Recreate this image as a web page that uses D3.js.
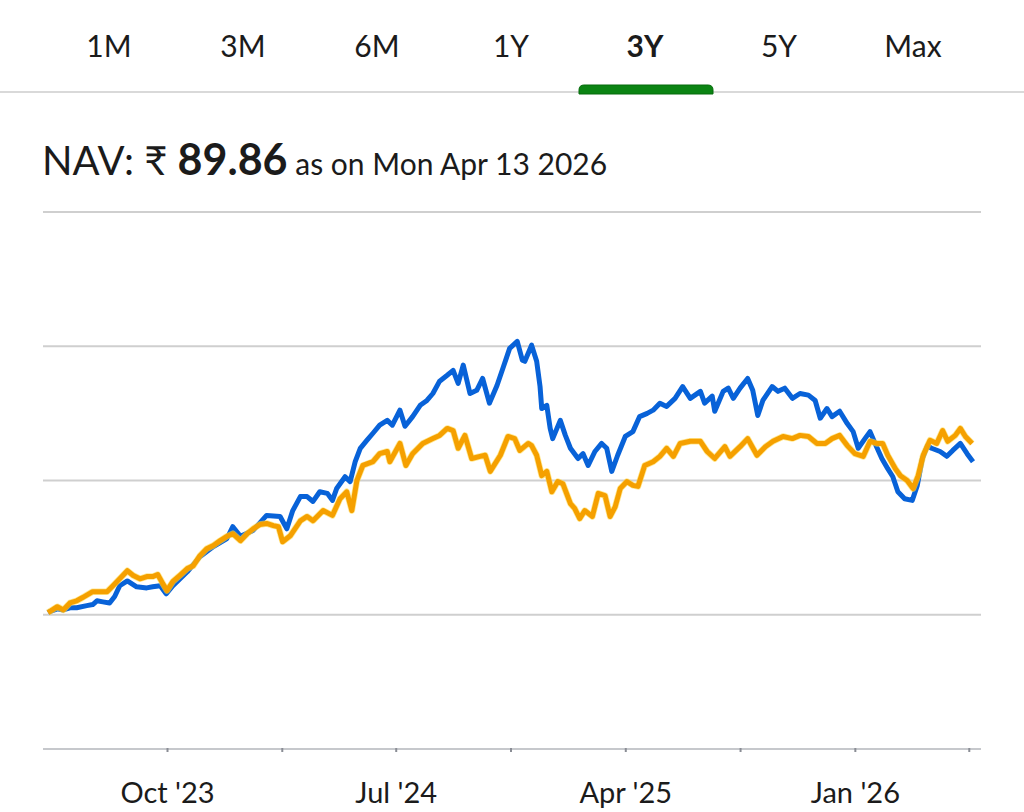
<!DOCTYPE html>
<html>
<head>
<meta charset="utf-8">
<script src="https://cdn.jsdelivr.net/npm/d3@7"></script>
<style>
  body { margin: 0; background: #fff; }
  svg { font-family: Lato, "Open Sans", sans-serif; }
</style>
</head>
<body>
<svg id="chart" width="1024" height="812"></svg>
<script>
// period tabs
var tabs = ['1M', '3M', '6M', '1Y', '3Y', '5Y', 'Max'];
var activeTab = '3Y';

// header
var navValue = '89.86';
var navDate = 'Mon Apr 13 2026';

// x axis: days counted from the window start
var startDate = '2023-04-13';
var endDay = 1096;
var tickDays = [141, 277, 412, 548, 684, 820, 956, 1091];
var tickLabels = ["Oct '23", '', "Jul '24", '', "Apr '25", '', "Jan '26", ''];

// y gridlines, % return since start
var gridValues = [-25, 0, 25, 50, 75];

// fund (blue), [day, % return]
var fundReturns = [
  [0, 0.4], [2, 0.6], [11, 1.1], [18, 0.9], [26, 1.3], [34, 1.3], [46, 1.7], [53, 1.9],
  [58, 2.6], [65, 2.4], [73, 2.2], [79, 3.4], [85, 5.4], [94, 6.3], [105, 5.2], [117, 5.0],
  [124, 5.2], [133, 5.4], [140, 3.9], [148, 5.4], [165, 8.0], [180, 10.8], [196, 12.7],
  [212, 14.2], [219, 16.4], [228, 14.6], [243, 15.7], [259, 18.5], [275, 18.3], [283, 16.0],
  [290, 19.4], [299, 22.0], [307, 22.0], [314, 21.1], [322, 22.9], [331, 22.6], [337, 21.3],
  [342, 23.5], [352, 25.7], [358, 24.8], [364, 28.5], [370, 31.0], [378, 32.5], [385, 33.8],
  [393, 35.3], [402, 36.2], [408, 35.3], [417, 38.1], [423, 35.1], [432, 36.9], [441, 39.0],
  [449, 39.9], [456, 41.2], [464, 43.5], [473, 44.6], [480, 45.5], [486, 43.1], [492, 46.5],
  [500, 41.2], [508, 41.8], [515, 44.0], [523, 39.4], [532, 42.7], [539, 45.9], [547, 49.6],
  [556, 50.9], [562, 47.4], [565, 47.2], [573, 50.2], [579, 47.2], [583, 42.5], [585, 38.4],
  [591, 39.0], [595, 34.7], [598, 32.8], [607, 36.2], [613, 33.4], [619, 31.0], [628, 29.1],
  [634, 30.0], [640, 27.8], [648, 30.4], [656, 31.9], [662, 31.0], [668, 26.7], [675, 29.7],
  [684, 33.2], [693, 34.1], [701, 36.9], [710, 37.5], [717, 38.1], [725, 39.4], [733, 38.8],
  [743, 40.3], [752, 42.5], [761, 40.3], [773, 41.6], [778, 39.4], [787, 40.7], [790, 37.9],
  [800, 41.6], [806, 42.2], [812, 40.3], [820, 42.2], [829, 44.0], [835, 41.8], [841, 37.1],
  [847, 39.9], [858, 42.5], [865, 41.6], [873, 42.2], [882, 40.3], [891, 41.2], [901, 40.9],
  [909, 39.9], [915, 36.6], [923, 38.4], [929, 36.9], [938, 37.9], [947, 35.6], [954, 34.1],
  [960, 31.0], [968, 32.8], [974, 34.1], [980, 31.9], [988, 29.1], [995, 27.2], [1001, 25.7],
  [1007, 22.9], [1015, 21.6], [1024, 21.3], [1030, 24.1], [1036, 29.1], [1042, 31.5],
  [1047, 31.0], [1057, 30.4], [1065, 29.5], [1072, 30.6], [1081, 31.9], [1089, 30.0], [1096, 28.5]
];

// benchmark (orange), [day, % return]
var benchReturns = [
  [0, 0.4], [2, 0.6], [11, 1.5], [18, 0.9], [26, 2.2], [34, 2.6], [41, 3.2], [53, 4.3],
  [62, 4.3], [70, 4.3], [77, 5.4], [85, 6.7], [94, 8.2], [101, 7.3], [109, 6.7], [117, 7.1],
  [124, 7.1], [130, 7.5], [136, 5.8], [141, 4.5], [148, 6.2], [156, 7.3], [165, 8.6], [172, 9.1],
  [180, 11.0], [188, 12.3], [196, 12.9], [204, 13.8], [212, 14.6], [219, 15.1], [228, 13.8],
  [236, 15.1], [243, 16.0], [251, 16.8], [259, 17.0], [267, 16.6], [273, 16.4], [278, 13.6],
  [287, 14.7], [299, 17.5], [307, 18.3], [314, 17.5], [326, 19.4], [337, 18.5], [346, 21.6],
  [354, 22.9], [360, 19.4], [366, 25.0], [373, 27.8], [385, 28.5], [393, 30.0], [402, 30.4],
  [405, 28.5], [417, 31.9], [424, 27.8], [432, 30.0], [444, 31.9], [456, 32.8], [464, 33.4],
  [473, 34.7], [480, 34.3], [486, 31.0], [494, 33.4], [502, 29.1], [512, 29.5], [518, 29.7],
  [524, 26.7], [536, 29.7], [545, 33.2], [553, 32.8], [559, 30.6], [569, 31.9], [573, 31.5],
  [579, 29.7], [585, 25.9], [591, 26.7], [597, 22.9], [604, 24.8], [610, 24.4], [619, 20.7],
  [624, 19.8], [630, 17.9], [636, 19.4], [645, 18.3], [652, 22.6], [660, 22.2], [666, 18.3],
  [672, 20.1], [678, 23.5], [686, 24.8], [693, 24.1], [699, 23.9], [707, 27.8], [717, 28.5],
  [725, 29.5], [733, 31.0], [741, 29.5], [749, 31.9], [761, 32.3], [773, 32.3], [781, 30.4],
  [790, 29.1], [802, 31.3], [808, 29.5], [820, 31.3], [829, 32.8], [840, 29.7], [850, 31.3],
  [859, 32.3], [871, 33.2], [882, 32.8], [891, 33.4], [901, 33.2], [911, 31.9], [921, 31.9],
  [929, 32.8], [938, 33.4], [947, 31.5], [956, 30.0], [966, 29.5], [974, 32.3], [982, 31.9],
  [989, 31.9], [995, 29.7], [1004, 27.2], [1010, 25.9], [1018, 25.0], [1025, 23.5], [1031, 25.9],
  [1037, 29.7], [1045, 32.5], [1053, 31.9], [1060, 34.3], [1066, 32.3], [1075, 33.4],
  [1081, 34.7], [1087, 33.2], [1095, 31.9]
];

var svg = d3.select('#chart');
var width = 1024;
var plot = {left: 43, right: 981, top: 212, bottom: 749};

var start = d3.timeParse('%Y-%m-%d')(startDate);
function dayToDate(d) { return d3.timeDay.offset(start, d); }

// ---- tabs ----
var tabScale = d3.scaleBand().domain(tabs).range([42, 980]);

svg.append('line')
    .attr('x1', 0).attr('x2', width)
    .attr('y1', 92).attr('y2', 92)
    .attr('stroke', '#d9d9d9')
    .attr('stroke-width', 2);

svg.selectAll('.tab')
    .data(tabs)
  .enter().append('text')
    .attr('class', 'tab')
    .attr('x', function(d) { return tabScale(d) + tabScale.bandwidth() / 2; })
    .attr('y', 57)
    .attr('text-anchor', 'middle')
    .attr('font-size', 30)
    .attr('font-weight', function(d) { return d == activeTab ? 700 : 400; })
    .attr('fill', '#1b1b1b')
    .text(function(d) { return d; });

var bw = tabScale.bandwidth(), r = 5;
var bx = tabScale(activeTab) + 1;
svg.append('path')
    .attr('d', 'M' + bx + ',94 V' + (85 + r) + ' Q' + bx + ',85 ' + (bx + r) + ',85' +
               ' H' + (bx + bw - r) + ' Q' + (bx + bw) + ',85 ' + (bx + bw) + ',' + (85 + r) + ' V94 Z')
    .attr('fill', '#0b8413')
    .attr('stroke', '#076b0d')
    .attr('stroke-width', 1);

// ---- header ----
var title = svg.append('text')
    .attr('x', 42)
    .attr('y', 175)
    .attr('fill', '#1b1b1b');
title.append('tspan').attr('font-size', 40).text('NAV: ₹ ');
title.append('tspan').attr('font-size', 43).attr('font-weight', 700).text(navValue);
title.append('tspan').attr('font-size', 30).text(' as on ' + navDate);

// ---- scales ----
var x = d3.scaleTime()
    .domain([start, dayToDate(endDay)])
    .range([48, 973]);

var y = d3.scaleLinear()
    .domain([-25, 75])
    .range([plot.bottom, plot.top]);

// gridlines
svg.append('g')
    .selectAll('line')
    .data(gridValues.slice(1))
  .enter().append('line')
    .attr('x1', plot.left).attr('x2', plot.right)
    .attr('y1', function(d) { return y(d); })
    .attr('y2', function(d) { return y(d); })
    .attr('stroke', '#cfcfcf')
    .attr('stroke-width', 2);

// bottom axis
var xAxis = d3.axisBottom(x)
    .tickValues(tickDays.map(dayToDate))
    .tickSize(3)
    .tickPadding(30)
    .tickFormat(function(d, i) { return tickLabels[i]; });

var ax = svg.append('g')
    .attr('transform', 'translate(0,' + y(-25) + ')')
    .call(xAxis);
ax.select('.domain').remove();
ax.insert('line', ':first-child')
    .attr('x1', plot.left).attr('x2', plot.right)
    .attr('stroke', '#c6c8cc')
    .attr('stroke-width', 2);
ax.selectAll('.tick line').attr('stroke', '#8a8d95').attr('stroke-width', 2).attr('y1', -1);
ax.selectAll('.tick text')
    .attr('font-size', 29)
    .attr('font-family', 'Lato, "Open Sans", sans-serif')
    .attr('fill', '#1b1b1b');

// ---- lines ----
var line = d3.line()
    .x(function(d) { return x(dayToDate(d[0])); })
    .y(function(d) { return y(d[1]); });

svg.append('path')
    .datum(fundReturns)
    .attr('d', line)
    .attr('fill', 'none')
    .attr('stroke', '#0862d8')
    .attr('stroke-width', 5)
    .attr('stroke-linejoin', 'round');

svg.append('path')
    .datum(benchReturns)
    .attr('d', line)
    .attr('fill', 'none')
    .attr('stroke', '#ffd84a')
    .attr('stroke-opacity', 0.6)
    .attr('stroke-width', 6.5)
    .attr('stroke-linejoin', 'round');

svg.append('path')
    .datum(benchReturns)
    .attr('d', line)
    .attr('fill', 'none')
    .attr('stroke', '#f5a000')
    .attr('stroke-width', 5)
    .attr('stroke-linejoin', 'round');
</script>
</body>
</html>
